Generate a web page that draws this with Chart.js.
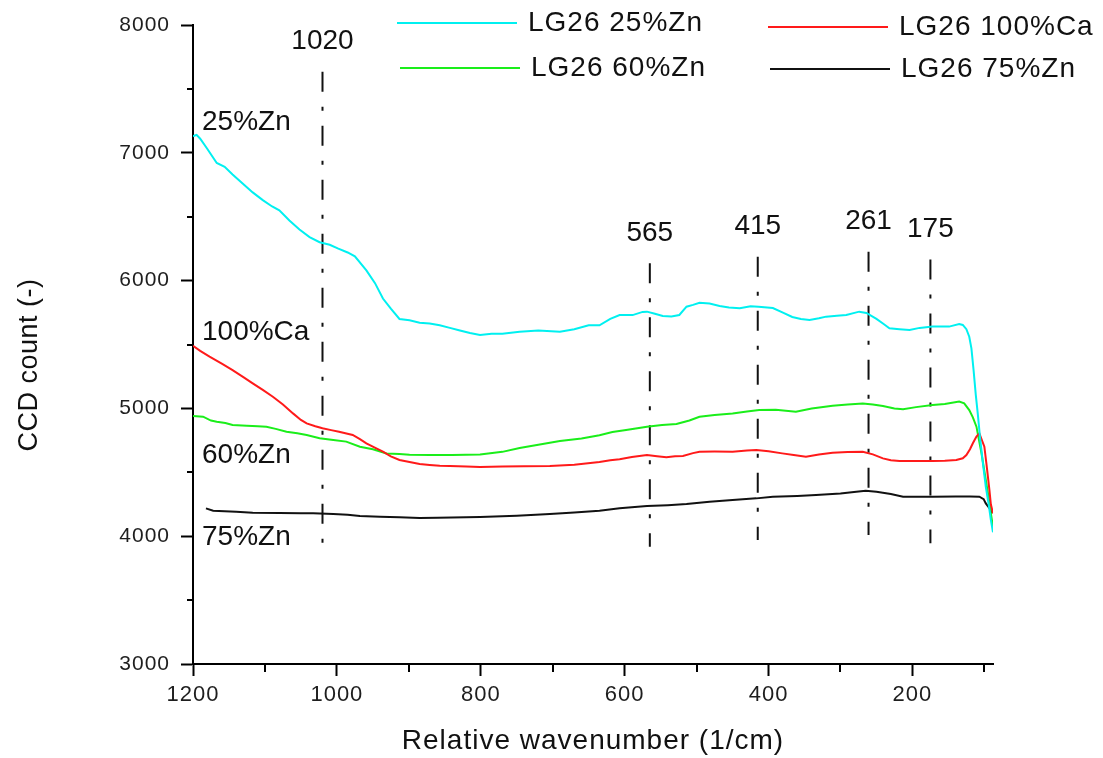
<!DOCTYPE html>
<html>
<head>
<meta charset="utf-8">
<title>LG26 - spectres Raman</title>
<script src="https://cdn.jsdelivr.net/npm/chart.js@4.4.1/dist/chart.umd.min.js"></script>
<style>
  html, body { margin: 0; padding: 0; background: #fff; }
</style>
</head>
<body>
<canvas id="graphique" width="1103" height="758"></canvas>
<script>
/* spectres LG26 : nombre d'onde relatif (1/cm) -> comptage CCD */
const zn25X = [1200,1195,1190,1180,1167,1156,1145,1131,1117,1103,1090,1080,1066,1052,1038,1024,1010,998,985,975,959,947,936,925,913,899,885,871,857,843,829,815,801,785,770,746,720,690,670,650,635,620,607,589,575,569,558,547,535,524,514,505,496,482,468,455,440,425,414,394,380,367,355,343,330,320,305,292,274,264,250,240,232,218,204,190,172,160,149,135,130,125,121,118,115,112,109,106,102,98,94,91,88];
const zn25Y = [7130,7140,7110,7030,6920,6890,6830,6760,6690,6630,6580,6550,6470,6400,6340,6300,6280,6250,6220,6190,6080,5980,5860,5780,5700,5690,5670,5665,5650,5630,5610,5590,5575,5585,5585,5600,5610,5600,5620,5650,5650,5700,5730,5730,5755,5757,5740,5723,5720,5731,5796,5810,5827,5820,5801,5790,5783,5800,5796,5785,5750,5715,5700,5692,5705,5718,5725,5731,5757,5747,5700,5660,5627,5620,5614,5630,5640,5640,5640,5660,5653,5620,5561,5470,5300,5110,4950,4770,4570,4387,4250,4127,4030];

const ca100X = [1200,1190,1177,1160,1145,1130,1117,1103,1089,1075,1061,1050,1042,1030,1020,1008,997,978,968,959,948,936,925,913,899,885,871,857,843,820,801,770,740,704,670,635,620,607,590,569,555,542,530,519,505,496,475,450,430,417,400,381,365,348,330,311,290,269,255,241,230,218,195,172,155,139,130,125,120,116,111,107,104,100,97,93,91,88];
const ca100Y = [5490,5450,5405,5350,5300,5245,5196,5145,5091,5030,4961,4910,4883,4860,4844,4830,4818,4792,4760,4727,4695,4661,4625,4596,4580,4565,4558,4552,4549,4545,4541,4545,4547,4549,4560,4580,4595,4602,4620,4635,4625,4617,4625,4627,4650,4661,4662,4661,4670,4675,4665,4648,4635,4622,4640,4653,4658,4661,4640,4609,4595,4588,4588,4588,4590,4596,4610,4635,4680,4727,4780,4805,4760,4700,4560,4362,4250,4179];

const zn60X = [1200,1186,1175,1167,1155,1145,1125,1110,1098,1085,1070,1055,1042,1024,1005,987,968,950,931,913,899,870,840,801,770,746,720,690,660,635,617,598,569,548,528,510,496,475,450,430,413,390,362,340,311,290,269,255,241,225,213,195,172,155,135,128,121,116,111,104,98,94,91,88];
const zn60Y = [4941,4935,4905,4896,4885,4870,4865,4860,4857,4840,4818,4805,4792,4766,4753,4740,4700,4680,4648,4643,4638,4635,4635,4640,4660,4690,4715,4745,4765,4790,4815,4831,4857,4870,4878,4905,4935,4948,4961,4975,4987,4990,4974,5000,5021,5030,5039,5030,5018,5000,4993,5010,5027,5035,5053,5040,4987,4930,4857,4648,4440,4300,4179,4074];

const zn75X = [1182,1172,1140,1117,1080,1050,1033,1005,985,968,940,913,885,860,840,801,750,704,670,635,607,569,540,514,482,450,417,394,360,334,300,278,265,250,230,213,172,140,120,107,101,98,93,89];
const zn75Y = [4218,4200,4192,4184,4182,4180,4179,4174,4168,4158,4152,4148,4142,4145,4147,4150,4160,4174,4185,4200,4218,4236,4243,4252,4270,4283,4296,4309,4315,4322,4335,4348,4355,4348,4330,4309,4309,4310,4310,4309,4290,4257,4220,4179];

// pics repérés (traits mixtes verticaux)
const peaks = [1020, 565, 415, 261, 175];
const peakTop = [7635, 6135, 6187, 6226, 6166];
const peakBottom = [3845, 3918, 3970, 4009, 3944];

// graduations
const xTicks = [1200, 1000, 800, 600, 400, 200];
const xMinor = [1100, 900, 700, 500, 300, 100];
const yTicks = [3000, 4000, 5000, 6000, 7000, 8000];
const yMinor = [3500, 4500, 5500, 6500, 7500];

const FONT = '"Liberation Sans", Arial, sans-serif';

function serie(label, xs, ys, color) {
  return {
    label: label,
    data: xs.map((v, i) => ({x: v, y: ys[i]})),
    borderColor: color,
    backgroundColor: color,
    borderWidth: 2,
    pointRadius: 0,
    tension: 0,
    fill: false
  };
}

const datasets = [
  serie('LG26 25%Zn', zn25X, zn25Y, '#00f0f0'),
  serie('LG26 100%Ca', ca100X, ca100Y, '#ff1a1a'),
  serie('LG26 60%Zn', zn60X, zn60Y, '#1aee1a'),
  serie('LG26 75%Zn', zn75X, zn75Y, '#111111')
];

// un dataset par trait de pic
peaks.forEach((p, i) => {
  datasets.push({
    label: 'pic ' + p,
    data: [{x: p, y: peakTop[i]}, {x: p, y: peakBottom[i]}],
    borderColor: '#111',
    borderWidth: 2,
    borderDash: [20, 15, 4, 15],
    pointRadius: 0,
    fill: false
  });
});

// étiquettes des échantillons à gauche du tracé
const sampleTags = [['25%Zn', 7240], ['100%Ca', 5598], ['60%Zn', 4632], ['75%Zn', 3990]];
// position des entrées de légende (x début du trait, y)
const legendSlots = [[397, 23], [768, 27], [400, 68], [770, 69]];

const decor = {
  id: 'decor',
  beforeDraw(chart) {
    chart.ctx.letterSpacing = '1px';
  },
  afterDraw(chart) {
    const {ctx, chartArea, scales: {x, y}} = chart;
    ctx.save();

    // petites graduations
    ctx.strokeStyle = '#000';
    ctx.lineWidth = 2;
    ctx.beginPath();
    xMinor.forEach(v => {
      const px = Math.round(x.getPixelForValue(v));
      ctx.moveTo(px, chartArea.bottom);
      ctx.lineTo(px, chartArea.bottom + 8);
    });
    yMinor.forEach(v => {
      const py = Math.round(y.getPixelForValue(v));
      ctx.moveTo(chartArea.left, py);
      ctx.lineTo(chartArea.left - 6, py);
    });
    ctx.stroke();

    // numéros des pics
    ctx.letterSpacing = '0px';
    ctx.fillStyle = '#111';
    ctx.font = '28px ' + FONT;
    ctx.textAlign = 'center';
    ctx.textBaseline = 'middle';
    peaks.forEach((p, i) => {
      ctx.fillText(String(p), x.getPixelForValue(p), y.getPixelForValue(peakTop[i]) - 30);
    });

    // noms des échantillons
    ctx.textAlign = 'left';
    sampleTags.forEach(([t, v]) => ctx.fillText(t, chartArea.left + 9, y.getPixelForValue(v)));

    // légende
    ctx.letterSpacing = '1px';
    legendSlots.forEach(([lx, ly], i) => {
      const ds = chart.data.datasets[i];
      ctx.strokeStyle = ds.borderColor;
      ctx.lineWidth = 2;
      ctx.beginPath();
      ctx.moveTo(lx, ly);
      ctx.lineTo(lx + 120, ly);
      ctx.stroke();
      ctx.fillStyle = '#111';
      ctx.fillText(ds.label, lx + 131, ly);
    });

    // titre de l'axe Y
    ctx.translate(30, 365);
    ctx.rotate(-Math.PI / 2);
    ctx.textAlign = 'center';
    ctx.letterSpacing = '0.5px';
    ctx.font = '27px ' + FONT;
    ctx.fillText('CCD count (-)', 0, 0);

    ctx.restore();
  }
};

const chart = new Chart(document.getElementById('graphique'), {
  type: 'line',
  data: {datasets: datasets},
  options: {
    responsive: false,
    devicePixelRatio: 1,
    animation: false,
    layout: {padding: {top: 25, right: 110, left: 0, bottom: 0}},
    plugins: {legend: {display: false}, tooltip: {enabled: false}},
    scales: {
      x: {
        type: 'linear',
        min: 88,
        max: 1200,
        reverse: true,
        afterFit: s => { s.height = 94; },
        afterBuildTicks: s => { s.ticks = xTicks.map(v => ({value: v})); },
        grid: {drawOnChartArea: false, tickLength: 12, tickWidth: 2, tickColor: '#000'},
        border: {color: '#000', width: 2},
        ticks: {
          padding: 6,
          color: '#1e1e1e',
          font: {family: FONT, size: 22},
          callback: v => String(v)
        },
        title: {
          display: true,
          text: 'Relative wavenumber (1/cm)',
          color: '#111',
          font: {family: FONT, size: 28},
          padding: {top: 0, bottom: 0}
        }
      },
      y: {
        min: 3000,
        max: 8000,
        afterFit: s => { s.width = 193; },
        afterBuildTicks: s => { s.ticks = yTicks.map(v => ({value: v})); },
        grid: {drawOnChartArea: false, tickLength: 12, tickWidth: 2, tickColor: '#000'},
        border: {color: '#000', width: 2},
        ticks: {
          padding: 11,
          color: '#1e1e1e',
          font: {family: FONT, size: 21},
          callback: v => String(v)
        }
      }
    }
  },
  plugins: [decor]
});
</script>
</body>
</html>
